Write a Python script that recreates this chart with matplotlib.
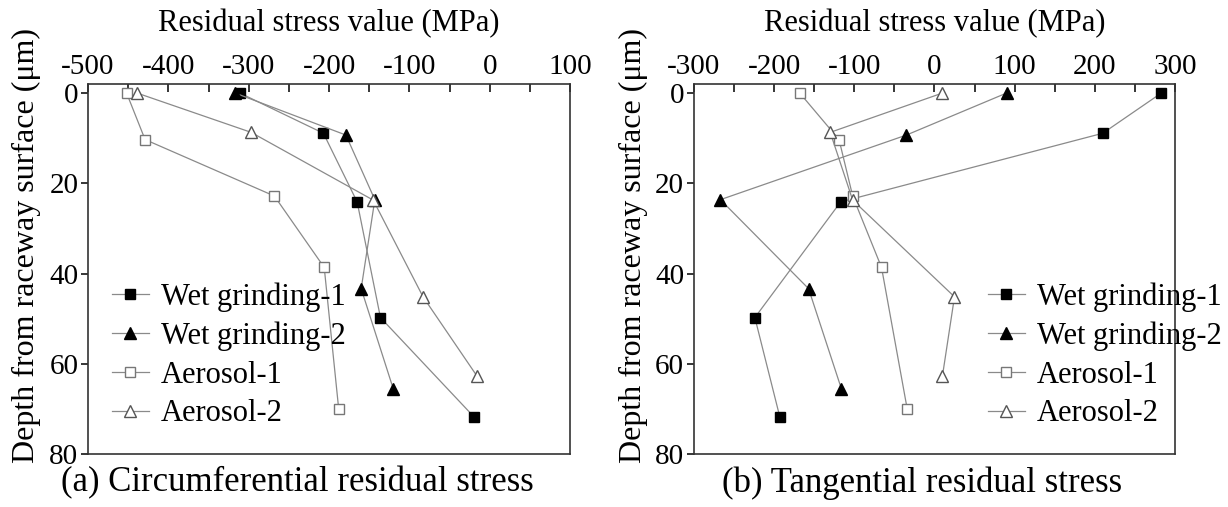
import numpy as np
import matplotlib.pyplot as plt
from matplotlib.ticker import MultipleLocator

plt.rcParams['font.family'] = ['Liberation Serif', 'DejaVu Serif']
plt.rcParams['axes.unicode_minus'] = False

# depths (um), shared by the two panels
depth_wet1 = [0, 8.9, 24.1, 49.7, 71.6]
depth_wet2 = [0, 9.3, 23.6, 43.3, 65.5]
depth_aer1 = [0, 10.3, 22.8, 38.6, 69.9]
depth_aer2 = [0, 8.7, 23.7, 45.1, 62.6]

# (a) circumferential residual stress (MPa)
circ_wet1 = [-311, -207, -165, -136, -20]
circ_wet2 = [-317, -179, -143, -160, -120]
circ_aer1 = [-452, -429, -268, -206, -188]
circ_aer2 = [-439, -297, -145, -83, -16]

# (b) tangential residual stress (MPa)
tang_wet1 = [283, 210, -117, -224, -193]
tang_wet2 = [90, -35, -267, -157, -116]
tang_aer1 = [-168, -119, -102, -66, -34]
tang_aer2 = [10, -130, -102, 25, 10]

labels = ['Wet grinding-1', 'Wet grinding-2', 'Aerosol-1', 'Aerosol-2']

styles = [
    dict(marker='s', mfc='black', mec='black', ms=7.5),
    dict(marker='^', mfc='black', mec='black', ms=9),
    dict(marker='s', mfc='white', mec='#777777', ms=7.5),
    dict(marker='^', mfc='white', mec='#555555', ms=9),
]

fig = plt.figure(figsize=(12.28, 5.07), dpi=100)
ax1 = fig.add_axes([0.0717, 0.1036, 0.3925, 0.7307])
ax2 = fig.add_axes([0.5651, 0.1036, 0.3917, 0.7307])


def draw(ax, xs, xlim, leg_anchor):
    depths = [depth_wet1, depth_wet2, depth_aer1, depth_aer2]
    for x, d, lab, st in zip(xs, depths, labels, styles):
        ax.plot(x, d, color='#8a8a8a', lw=0.9, mew=1.0, label=lab, **st)
    ax.set_xlim(*xlim)
    ax.set_ylim(80, -2)
    ax.xaxis.tick_top()
    ax.xaxis.set_label_position('top')
    ax.xaxis.set_major_locator(MultipleLocator(100))
    ax.xaxis.set_minor_locator(MultipleLocator(50))
    ax.yaxis.set_major_locator(MultipleLocator(20))
    ax.tick_params(axis='x', which='both', direction='in', length=6, width=1.1,
                   labelsize=21, pad=3)
    ax.tick_params(axis='y', direction='out', length=5, width=1.1,
                   labelsize=21, pad=2)
    for sp in ax.spines.values():
        sp.set_linewidth(1.2)
        sp.set_color('#333333')
    ax.set_xlabel('Residual stress value (MPa)', fontsize=22, labelpad=16)
    ax.set_ylabel('Depth from raceway surface (\u03bcm)', fontsize=23)
    ax.legend(loc='upper left', bbox_to_anchor=leg_anchor,
              bbox_transform=fig.transFigure, frameon=False, fontsize=22,
              handlelength=1.2, handletextpad=0.4, labelspacing=0.32,
              borderpad=0, borderaxespad=0)


draw(ax1, [circ_wet1, circ_wet2, circ_aer1, circ_aer2], (-500, 100),
     (112 / 1228, 1 - 282 / 507))
draw(ax2, [tang_wet1, tang_wet2, tang_aer1, tang_aer2], (-300, 300),
     (988 / 1228, 1 - 282 / 507))
ax1.yaxis.set_label_coords(-0.097, 0.565)
ax2.yaxis.set_label_coords(-0.095, 0.565)

fig.text(297 / 1228, 1 - 483 / 507, '(a) Circumferential residual stress',
         fontsize=25, ha='center', va='center')
fig.text(922 / 1228, 1 - 483 / 507, '(b) Tangential residual stress',
         fontsize=25, ha='center', va='center')

fig.savefig('out.png', dpi=100)
